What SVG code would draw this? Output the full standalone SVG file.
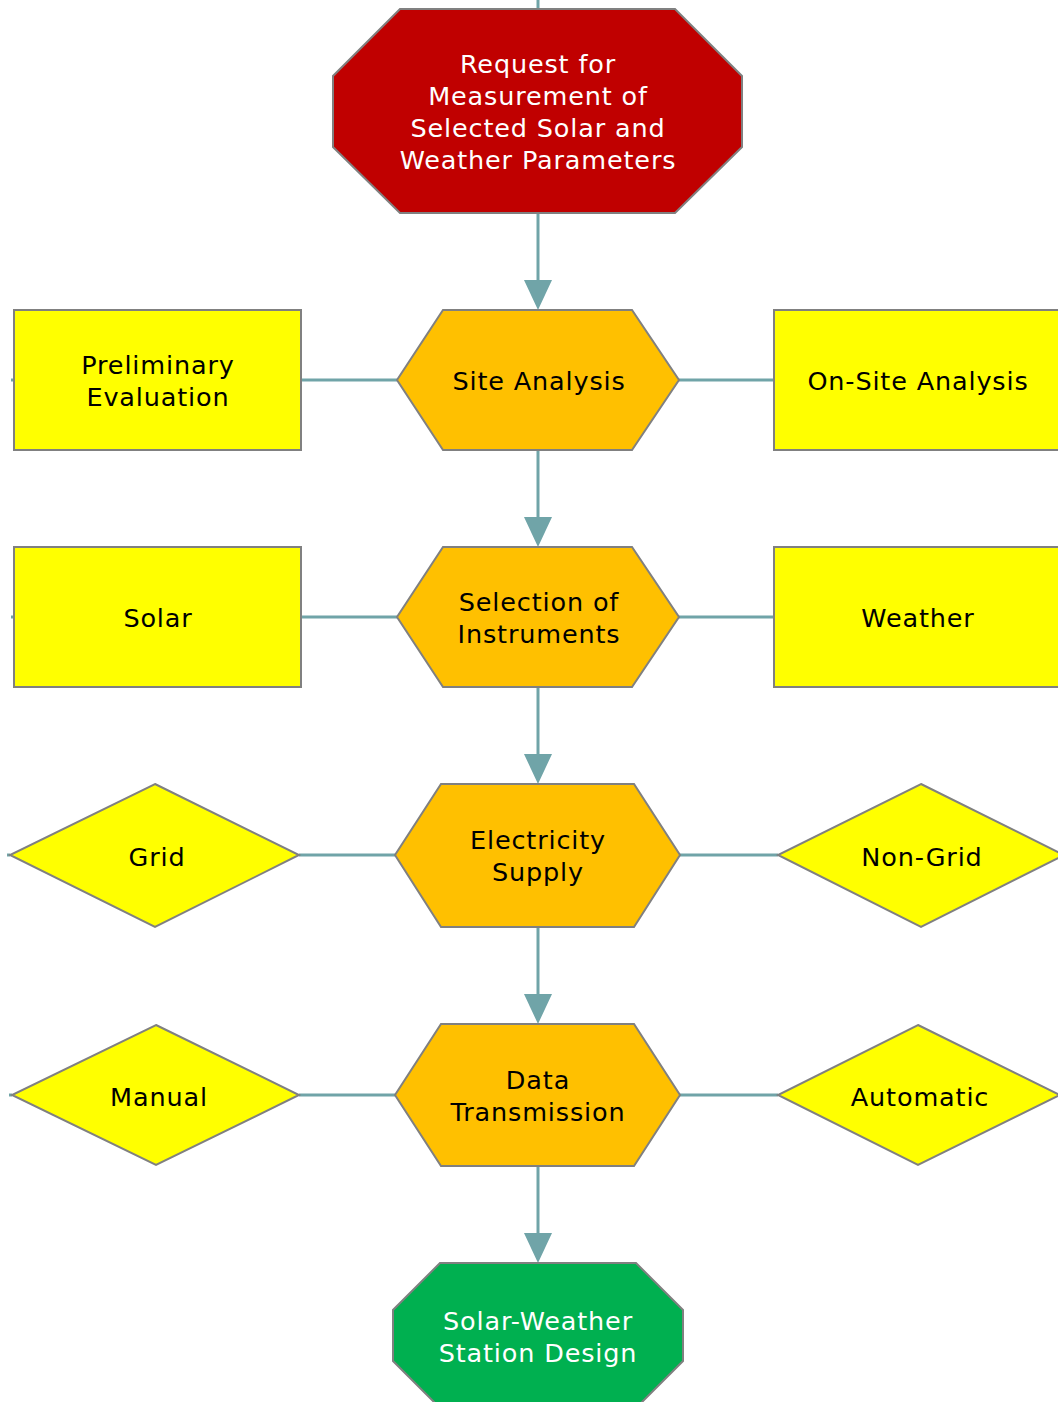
<svg xmlns="http://www.w3.org/2000/svg" width="1058" height="1402" viewBox="0 0 1058 1402">
<style>
.n{stroke:#808080;stroke-width:2}
.red{fill:#C00000}.org{fill:#FFC000}.yel{fill:#FFFF00}.grn{fill:#00B050}
.c{stroke:#70A4A8;stroke-width:3;fill:none}
.ah{fill:#70A4A8}
text{font-family:"DejaVu Sans","Liberation Sans",sans-serif;font-size:25.5px;letter-spacing:0.85px;text-anchor:middle}
.w{fill:#FFFFFF}.b{fill:#000000}
</style>
<rect width="1058" height="1402" fill="#FFFFFF"/>
<g id="connectors">
<line class="c" x1="538" y1="0" x2="538" y2="9"/>
<line class="c" x1="538" y1="213" x2="538" y2="282"/>
<polygon class="ah" points="524,280 552,280 538,310"/>
<line class="c" x1="538" y1="450" x2="538" y2="519"/>
<polygon class="ah" points="524,517 552,517 538,547"/>
<line class="c" x1="538" y1="687" x2="538" y2="756"/>
<polygon class="ah" points="524,754 552,754 538,784"/>
<line class="c" x1="538" y1="927" x2="538" y2="996"/>
<polygon class="ah" points="524,994 552,994 538,1024"/>
<line class="c" x1="538" y1="1166" x2="538" y2="1235"/>
<polygon class="ah" points="524,1233 552,1233 538,1263"/>
<line class="c" x1="301" y1="380" x2="397" y2="380"/>
<line class="c" x1="679" y1="380" x2="774" y2="380"/>
<line class="c" x1="301" y1="617" x2="397" y2="617"/>
<line class="c" x1="679" y1="617" x2="774" y2="617"/>
<line class="c" x1="299" y1="855" x2="395" y2="855"/>
<line class="c" x1="680" y1="855" x2="778" y2="855"/>
<line class="c" x1="299" y1="1095" x2="395" y2="1095"/>
<line class="c" x1="680" y1="1095" x2="778" y2="1095"/>
<line class="c" x1="11" y1="380" x2="14" y2="380"/>
<line class="c" x1="11" y1="617" x2="14" y2="617"/>
<line class="c" x1="7" y1="855" x2="10" y2="855"/>
<line class="c" x1="9" y1="1095" x2="12" y2="1095"/>
</g>
<g id="request">
<polygon class="n red" points="400,9 675,9 742,76 742,147 675,213 400,213 333,147 333,76"/>
<text class="w" x="538" y="73">Request for</text>
<text class="w" x="538" y="105">Measurement of</text>
<text class="w" x="538" y="137">Selected Solar and</text>
<text class="w" x="538" y="169">Weather Parameters</text>
</g>
<g id="site-analysis">
<polygon class="n org" points="443,310 632,310 679,380 632,450 443,450 397,380"/>
<text class="b" x="539" y="390">Site Analysis</text>
</g>
<g id="preliminary">
<rect class="n yel" x="14" y="310" width="287" height="140"/>
<text class="b" x="158" y="374">Preliminary</text>
<text class="b" x="158" y="406">Evaluation</text>
</g>
<g id="onsite">
<rect class="n yel" x="774" y="310" width="288" height="140"/>
<text class="b" x="918" y="390">On-Site Analysis</text>
</g>
<g id="selection">
<polygon class="n org" points="443,547 632,547 679,617 632,687 443,687 397,617"/>
<text class="b" x="539" y="611">Selection of</text>
<text class="b" x="539" y="643">Instruments</text>
</g>
<g id="solar">
<rect class="n yel" x="14" y="547" width="287" height="140"/>
<text class="b" x="158" y="627">Solar</text>
</g>
<g id="weather">
<rect class="n yel" x="774" y="547" width="288" height="140"/>
<text class="b" x="918" y="627">Weather</text>
</g>
<g id="electricity">
<polygon class="n org" points="441,784 634,784 680,855 634,927 441,927 395,855"/>
<text class="b" x="538" y="849">Electricity</text>
<text class="b" x="538" y="881">Supply</text>
</g>
<g id="grid">
<polygon class="n yel" points="155,784 299,855 155,927 10,855"/>
<text class="b" x="157" y="866">Grid</text>
</g>
<g id="nongrid">
<polygon class="n yel" points="921,784 1064,855 921,927 778,855"/>
<text class="b" x="922" y="866">Non-Grid</text>
</g>
<g id="data">
<polygon class="n org" points="441,1024 634,1024 680,1095 634,1166 441,1166 395,1095"/>
<text class="b" x="538" y="1089">Data</text>
<text class="b" x="538" y="1121">Transmission</text>
</g>
<g id="manual">
<polygon class="n yel" points="156,1025 299,1095 156,1165 12,1095"/>
<text class="b" x="159" y="1106">Manual</text>
</g>
<g id="automatic">
<polygon class="n yel" points="918,1025 1060,1095 918,1165 778,1095"/>
<text class="b" x="920" y="1106">Automatic</text>
</g>
<g id="design">
<polygon class="n grn" points="440,1263 636,1263 683,1310 683,1361 636,1408 440,1408 393,1361 393,1310"/>
<text class="w" x="538" y="1330">Solar-Weather</text>
<text class="w" x="538" y="1362">Station Design</text>
</g>
</svg>
